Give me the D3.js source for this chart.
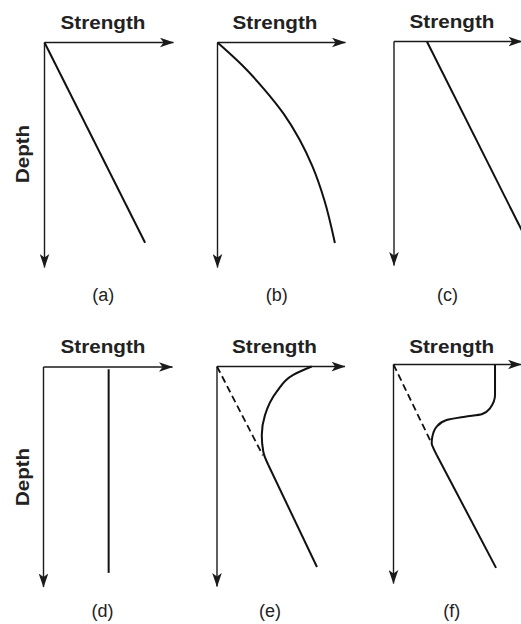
<!DOCTYPE html>
<html>
<head>
<meta charset="utf-8">
<script src="https://cdn.jsdelivr.net/npm/d3@7"></script>
<style>
  html, body { margin: 0; padding: 0; background: #fff; }
  svg { display: block; }
</style>
</head>
<body>
<script>
// Strength–depth profiles, stored as [strength, depth] pairs in relative units (axes run 0–10)
const panelLabels = ["(a)", "(b)", "(c)", "(d)", "(e)", "(f)"];
const xTitle = "Strength";
const yTitle = "Depth";

// (a) strength grows linearly from zero at the surface
const profileA = [[0, 0], [7.8, 8.9]];
// (b) strength grows with depth at a decreasing rate
const profileB = [[0, 0], [1.86, 0.98], [3.64, 2.09], [5.12, 3.16], [6.36, 4.31], [7.36, 5.51], [8.29, 7.02], [9.1, 8.91]];
// (c) linear increase from a non-zero surface strength
const profileC = [[2.55, 0], [10.35, 8.9]];
// (d) constant strength
const profileD = [[5.05, 0.1], [5.05, 9.15]];
// (e) strong crust over a linearly increasing profile
const trendE = [[0, 0], [3.55, 3.95]];
const crustE = [[7.34, 0], [5.91, 0.37], [4.63, 1.12], [3.72, 2.16], [3.47, 3.04], [3.59, 3.79], [3.98, 4.38]];
const baseE = [[3.98, 4.38], [7.75, 8.91]];
// (f) uniform stiff crust dropping onto a linearly increasing profile
const trendF = [[0, 0], [2.95, 3.5]];
const crustF = [[7.87, 0], [7.87, 1.36], [7.48, 1.95], [6.84, 2.21], [5.54, 2.32], [4.12, 2.47], [3.35, 2.76], [3.01, 3.21], [2.96, 3.5], [3.09, 3.72], [3.35, 4.02]];
const baseF = [[3.35, 4.02], [7.95, 9.04]];

const panelSeries = [
  [{ pts: profileA }],
  [{ pts: profileB, curved: true }],
  [{ pts: profileC }],
  [{ pts: profileD }],
  [{ pts: trendE, dashed: true }, { pts: crustE, curved: true }, { pts: baseE }],
  [{ pts: trendF, dashed: true }, { pts: crustF, curved: true }, { pts: baseF }]
];

// Panel placement: axis origin, axis lengths and label positions
const layout = [
  { ox: 44.5,  oy: 42.5,  xLen: 129, yLen: 225, depth: true,  titleX: 103,   titleY: 29,  nameX: 103.3, nameY: 301 },
  { ox: 217.5, oy: 42.5,  xLen: 128, yLen: 225, depth: false, titleX: 275,   titleY: 29,  nameX: 276.7, nameY: 301 },
  { ox: 394,   oy: 41.5,  xLen: 128, yLen: 224, depth: false, titleX: 452,   titleY: 28,  nameX: 447.5, nameY: 301 },
  { ox: 43.5,  oy: 367,   xLen: 129, yLen: 220, depth: true,  titleX: 103,   titleY: 353, nameX: 102.5, nameY: 617 },
  { ox: 217,   oy: 366.5, xLen: 128, yLen: 220, depth: false, titleX: 274.5, titleY: 353, nameX: 270,   nameY: 617 },
  { ox: 393.5, oy: 364.5, xLen: 128, yLen: 219, depth: false, titleX: 451.7, titleY: 353, nameX: 451.7, nameY: 617 }
];

const W = 521, H = 624;
const ink = "#1a1a1a";

const svg = d3.select("body").append("svg")
  .attr("width", W).attr("height", H)
  .attr("viewBox", `0 0 ${W} ${H}`);

svg.append("defs").append("marker")
  .attr("id", "arrow")
  .attr("viewBox", "0 -5 14 10")
  .attr("refX", 13.5).attr("refY", 0)
  .attr("markerWidth", 14).attr("markerHeight", 10)
  .attr("markerUnits", "userSpaceOnUse")
  .attr("orient", "auto")
  .append("path")
  .attr("d", "M0,-4.8L14,0L0,4.8L3.6,0Z")
  .attr("fill", ink);

const x = d3.scaleLinear().domain([0, 10]).range([0, 129]);
const y = d3.scaleLinear().domain([0, 10]).range([0, 225]);

layout.forEach((p, i) => {
  const g = svg.append("g").attr("transform", `translate(${p.ox},${p.oy})`);

  // axes: strength to the right, depth downwards
  g.append("line")
    .attr("x1", 0).attr("y1", 0).attr("x2", p.xLen).attr("y2", 0)
    .attr("stroke", ink).attr("stroke-width", 1.4)
    .attr("marker-end", "url(#arrow)");
  g.append("line")
    .attr("x1", 0).attr("y1", 0).attr("x2", 0).attr("y2", p.yLen)
    .attr("stroke", ink).attr("stroke-width", 1.4)
    .attr("marker-end", "url(#arrow)");

  panelSeries[i].forEach(s => {
    const line = d3.line()
      .x(d => x(d[0]))
      .y(d => y(d[1]))
      .curve(s.curved ? d3.curveMonotoneY : d3.curveLinear);
    g.append("path")
      .attr("d", line(s.pts))
      .attr("fill", "none")
      .attr("stroke", "#111")
      .attr("stroke-width", s.dashed ? 1.8 : 2)
      .attr("stroke-dasharray", s.dashed ? "7,4" : null);
  });

  svg.append("text")
    .attr("x", p.titleX).attr("y", p.titleY)
    .attr("text-anchor", "middle")
    .attr("font-family", "Liberation Sans, Arial, sans-serif")
    .attr("font-weight", "bold")
    .attr("font-size", 18)
    .attr("textLength", 85)
    .attr("lengthAdjust", "spacingAndGlyphs")
    .attr("fill", "#222")
    .text(xTitle);

  if (p.depth) {
    const cy = p.oy + (i === 0 ? 111.5 : 110);
    svg.append("text")
      .attr("transform", `translate(29,${cy}) rotate(-90)`)
      .attr("text-anchor", "middle")
      .attr("font-family", "Liberation Sans, Arial, sans-serif")
      .attr("font-weight", "bold")
      .attr("font-size", 18)
      .attr("textLength", 58)
      .attr("lengthAdjust", "spacingAndGlyphs")
      .attr("fill", "#222")
      .text(yTitle);
  }

  svg.append("text")
    .attr("x", p.nameX).attr("y", p.nameY)
    .attr("text-anchor", "middle")
    .attr("font-family", "Liberation Sans, Arial, sans-serif")
    .attr("font-size", 18)
    .attr("fill", "#222")
    .text(panelLabels[i]);
});
</script>
</body>
</html>
